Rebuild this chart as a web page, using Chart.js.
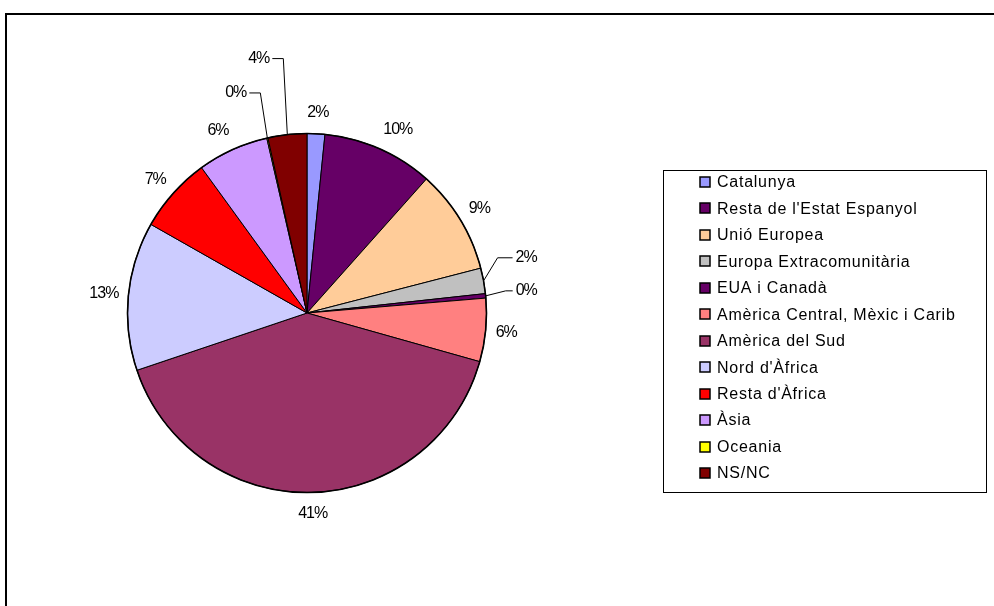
<!DOCTYPE html>
<html>
<head>
<meta charset="utf-8">
<script src="https://cdn.jsdelivr.net/npm/chart.js@4.4.1/dist/chart.umd.min.js"></script>
<style>
  html, body { margin: 0; padding: 0; background: #fff; }
  #wrap { position: relative; width: 994px; height: 606px; }
</style>
</head>
<body>
<div id="wrap"><canvas id="pie" width="994" height="606"></canvas></div>
<script>
  // origen dels participants (percentatges llegits del gràfic)
  const categories = [
    "Catalunya", "Resta de l'Estat Espanyol", "Unió Europea", "Europa Extracomunitària",
    "EUA i Canadà", "Amèrica Central, Mèxic i Carib", "Amèrica del Sud", "Nord d'Àfrica",
    "Resta d'Àfrica", "Àsia", "Oceania", "NS/NC"
  ];
  const shares = [1.6, 10.0, 9.4, 2.3, 0.4, 5.7, 40.5, 13.4, 6.8, 6.4, 0.1, 3.5];

  const colors = [
    "#9999FF", "#660066", "#FFCC99", "#C0C0C0", "#660066", "#FF8080",
    "#993366", "#CCCCFF", "#FF0000", "#CC99FF", "#FFFF00", "#800000"
  ];

  // small slices get a label pulled out with a leader line (offsets from the arc edge)
  const leaders = {
    3: { tx: 32, ty: -23, ex: 14, ey: -23, align: "left" },
    4: { tx: 30, ty: -5, ex: 20, ey: -5, align: "left" },
    10: { tx: -21, ty: -45, ex: -7, ey: -45, align: "right" },
    11: { tx: -18, ty: -76, ex: -4, ey: -76, align: "right" },
  };

  const FONT = '16px "Liberation Sans", Arial, sans-serif';

  const framePlugin = {
    id: "frame",
    beforeDraw(chart) {
      const ctx = chart.ctx;
      ctx.save();
      ctx.strokeStyle = "#000";
      ctx.lineWidth = 2;
      ctx.strokeRect(6, 14, 1100, 700);
      ctx.restore();
    },
  };

  const labelPlugin = {
    id: "sliceLabels",
    afterDatasetsDraw(chart) {
      const ctx = chart.ctx;
      const arcs = chart.getDatasetMeta(0).data;
      ctx.save();
      // heavier outer rim
      const a0 = arcs[0].getProps(["x", "y", "outerRadius"], true);
      ctx.beginPath();
      ctx.arc(a0.x, a0.y, a0.outerRadius, 0, Math.PI * 2);
      ctx.lineWidth = 1.6;
      ctx.strokeStyle = "#000";
      ctx.stroke();

      ctx.font = FONT;
      ctx.letterSpacing = "-1px";
      ctx.fillStyle = "#000";
      ctx.textBaseline = "middle";
      ctx.lineWidth = 1;
      arcs.forEach((arc, i) => {
        const p = arc.getProps(["x", "y", "startAngle", "endAngle", "outerRadius"], true);
        const mid = (p.startAngle + p.endAngle) / 2;
        const dx = Math.cos(mid), dy = Math.sin(mid);
        const ax = p.x + dx * p.outerRadius;
        const ay = p.y + dy * p.outerRadius;
        const text = Math.round(shares[i]) + "%";
        const lead = leaders[i];
        if (lead) {
          const endX = ax + lead.tx + (lead.align === "left" ? -3 : 3);
          ctx.beginPath();
          ctx.moveTo(ax, ay);
          ctx.lineTo(ax + lead.ex, ay + lead.ey);
          ctx.lineTo(endX, ay + lead.ty);
          ctx.stroke();
          ctx.textAlign = lead.align;
          ctx.fillText(text, ax + lead.tx, ay + lead.ty);
        } else {
          // push the label box just clear of the rim
          const w = ctx.measureText(text).width;
          const kx = Math.max(-1, Math.min(1, dx * 2.5));
          const cx = ax + dx * 10 + kx * w / 2;
          const cy = ay + dy * 10 + dy * 11;
          ctx.textAlign = "center";
          ctx.fillText(text, cx, cy);
        }
      });
      ctx.restore();
    },
  };

  const legendPlugin = {
    id: "boxLegend",
    afterDraw(chart) {
      const ctx = chart.ctx;
      ctx.save();
      ctx.strokeStyle = "#000";
      ctx.lineWidth = 1;
      ctx.strokeRect(663.5, 170.5, 323, 322);
      ctx.font = FONT;
      ctx.letterSpacing = "0.75px";
      ctx.textBaseline = "middle";
      ctx.textAlign = "left";
      categories.forEach((name, i) => {
        const y = 182 + i * 26.45;
        ctx.fillStyle = colors[i];
        ctx.fillRect(700, Math.round(y) - 5, 10, 10);
        ctx.lineWidth = 1.5;
        ctx.strokeRect(700, Math.round(y) - 5, 10, 10);
        ctx.fillStyle = "#000";
        ctx.fillText(name, 717, y + 1);
      });
      ctx.restore();
    },
  };

  new Chart(document.getElementById("pie"), {
    type: "pie",
    data: {
      labels: categories,
      datasets: [{
        data: shares,
        backgroundColor: colors,
        borderColor: "#000",
        borderWidth: 1,
      }],
    },
    options: {
      responsive: false,
      animation: false,
      layout: { padding: { left: 127, right: 507, top: 133, bottom: 113 } },
      plugins: {
        legend: { display: false },
        tooltip: { enabled: false },
      },
    },
    plugins: [framePlugin, labelPlugin, legendPlugin],
  });
</script>
</body>
</html>
